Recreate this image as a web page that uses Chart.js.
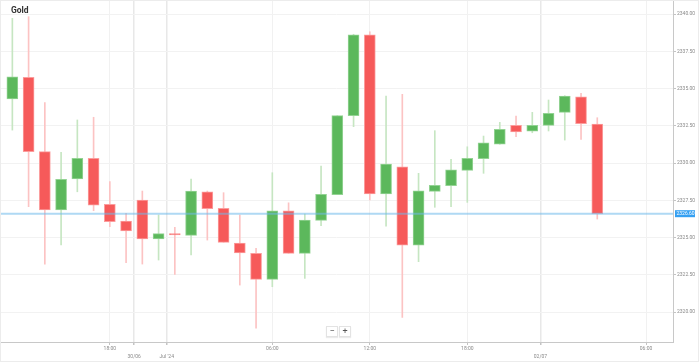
<!DOCTYPE html>
<html>
<head>
<meta charset="utf-8">
<script src="https://cdn.jsdelivr.net/npm/chart.js@4.4.1/dist/chart.umd.min.js"></script>
<style>
    html, body { margin: 0; padding: 0; background: #fff; }
    #wrap { position: relative; width: 699px; height: 362px; font-family: Roboto, "Open Sans", sans-serif; }
    #frame { position: absolute; left: 0; top: 0; width: 697px; height: 360px; border: 1px solid #ececec; pointer-events: none; }
    #title { position: absolute; left: 11px; top: 5px; font-size: 8.5px; font-weight: bold; color: #333; }
    #zoom { position: absolute; left: 326px; top: 326px; display: flex; }
    #zoom span { width: 10px; height: 9px; line-height: 9px; text-align: center; font-size: 9px; color: #555;
        background: #fff; border: 1px solid #e3e3e3; box-shadow: 0 1px 1px rgba(0,0,0,0.08); margin-right: 1px; }
</style>
</head>
<body>
<div id="wrap">
    <canvas id="goldChart" width="699" height="362"></canvas>
    <div id="title">Gold</div>
    <div id="zoom"><span>&minus;</span><span>+</span></div>
    <div id="frame"></div>
</div>
<script>
// hourly candles, 28/06 12:00 -> 02/07 03:00
const times = ["12:00", "13:00", "14:00", "15:00", "16:00", "17:00", "18:00", "19:00",
    "22:00", "23:00",
    "00:00", "01:00", "02:00", "03:00", "04:00", "05:00", "06:00", "07:00", "08:00", "09:00", "10:00",
    "11:00", "12:00", "13:00", "14:00", "15:00", "16:00", "17:00", "18:00", "19:00", "20:00", "21:00",
    "23:00", "00:00", "01:00", "02:00", "03:00"];

const openP = [2334.30, 2335.75, 2330.76, 2326.85, 2328.93, 2330.31, 2327.23, 2326.11, 2327.52, 2324.90,
    2325.27, 2325.15, 2328.07, 2326.96, 2324.63, 2323.94, 2322.19, 2326.80, 2323.94, 2326.15,
    2327.88, 2333.18, 2338.61, 2327.92, 2329.75, 2324.48, 2328.10, 2328.48, 2329.51, 2330.29,
    2331.26, 2332.53, 2332.13, 2332.53, 2333.40, 2334.45, 2332.62];
const highP = [2339.71, 2339.82, 2334.05, 2330.72, 2332.89, 2333.07, 2328.75, 2326.62, 2328.12, 2326.51,
    2325.68, 2328.93, 2328.12, 2328.01, 2326.51, 2324.27, 2329.35, 2327.33, 2326.58, 2329.80,
    2333.18, 2338.64, 2338.81, 2334.50, 2334.61, 2329.31, 2332.17, 2330.25, 2331.09, 2331.81,
    2332.73, 2333.15, 2333.40, 2334.23, 2334.52, 2334.68, 2333.04];
const lowP = [2332.21, 2327.07, 2323.22, 2324.50, 2328.07, 2326.80, 2325.73, 2323.31, 2323.22, 2323.49,
    2322.53, 2323.83, 2324.83, 2324.68, 2321.81, 2318.91, 2321.70, 2323.94, 2322.26, 2325.79,
    2327.88, 2332.44, 2327.52, 2325.77, 2319.64, 2323.38, 2327.03, 2327.07, 2327.36, 2329.31,
    2331.26, 2331.77, 2332.03, 2332.15, 2331.54, 2331.59, 2326.24];
const closeP = [2335.79, 2330.76, 2326.85, 2328.91, 2330.31, 2327.18, 2326.06, 2325.44, 2324.90, 2325.26,
    2325.18, 2328.12, 2326.93, 2324.68, 2323.96, 2322.19, 2326.80, 2323.94, 2326.17, 2327.90,
    2333.18, 2338.61, 2327.92, 2329.93, 2324.48, 2328.14, 2328.50, 2329.55, 2330.31, 2331.36,
    2332.26, 2332.08, 2332.53, 2333.34, 2334.50, 2332.64, 2326.60];

// x ticks sit on candle index (day breaks fall between candles)
const xTickPos = [6, 7.5, 9.5, 16, 22, 28, 32.5, 39];
const xTickText = ["18:00", "30/06", "Jul '24", "06:00", "12:00", "18:00", "02/07", "06:00"];
const xTickIsDay = [false, true, true, false, false, false, true, false];
const yTicks = [2320, 2322.5, 2325, 2327.5, 2330, 2332.5, 2335, 2337.5, 2340];
const lastPrice = 2326.60;

const isUp = openP.map((o, i) => closeP[i] >= o);

const wicks = {
    data: highP.map((h, i) => ({ x: i, y: [lowP[i], h] })),
    backgroundColor: isUp.map(u => u ? "#c6e6c2" : "#fcc3c3"),
    barThickness: 1,
    grouped: false,
    order: 2
};

const bodies = {
    data: openP.map((o, i) => ({ x: i, y: [o, closeP[i]] })),
    backgroundColor: isUp.map(u => u ? "#5cb85c" : "#f65a5a"),
    borderColor: isUp.map(u => u ? "#93d393" : "#fb9d9d"),
    borderWidth: 1,
    borderSkipped: false,
    barThickness: 11,
    grouped: false,
    order: 1
};

const priceLine = {
    id: "priceLine",
    afterDatasetsDraw(chart) {
        let ctx = chart.ctx;
        let area = chart.chartArea;
        let y = chart.scales.y.getPixelForValue(lastPrice);

        ctx.save();
        ctx.strokeStyle = "rgba(110, 185, 235, 0.55)";
        ctx.lineWidth = 2;
        ctx.beginPath();
        ctx.moveTo(area.left, y);
        ctx.lineTo(area.right, y);
        ctx.stroke();

        ctx.fillStyle = "#35a0f2";
        ctx.fillRect(area.right + 2, y - 3.5, 20, 7);
        ctx.fillStyle = "#fff";
        ctx.font = "5px Roboto";
        ctx.textBaseline = "middle";
        ctx.fillText(lastPrice.toFixed(2), area.right + 3.5, y + 0.3);
        ctx.restore();
    }
};

const ctx = document.getElementById("goldChart").getContext("2d");

new Chart(ctx, {
    type: "bar",
    data: { datasets: [wicks, bodies] },
    plugins: [priceLine],
    options: {
        responsive: false,
        animation: false,
        layout: { padding: 0 },
        plugins: {
            legend: { display: false },
            tooltip: { enabled: false }
        },
        scales: {
            x: {
                type: "linear",
                min: -0.76,
                max: 40.66,
                offset: false,
                bounds: "data",
                grid: {
                    offset: false,
                    color: c => c.tick && xTickIsDay[c.index] ? "#e8e8e8" : "#f1f1f1",
                    lineWidth: c => c.tick && xTickIsDay[c.index] ? 1.5 : 1,
                    tickLength: 3,
                    tickColor: "#c4c4c4"
                },
                border: { color: "#c8c8c8" },
                afterBuildTicks: s => { s.ticks = xTickPos.map(v => ({ value: v })); },
                afterFit: s => { s.height = 20; s.paddingLeft = 0; s.paddingRight = 0; },
                ticks: {
                    autoSkip: false,
                    maxRotation: 0,
                    padding: 0,
                    color: "#8a8a8a",
                    font: { size: 5, family: "Roboto", lineHeight: 1.6 },
                    callback: (v, i) => xTickIsDay[i] ? ["", xTickText[i]] : xTickText[i]
                }
            },
            y: {
                position: "right",
                min: 2317.99,
                max: 2340.94,
                bounds: "data",
                grid: {
                    color: "#f2f2f2",
                    tickLength: 3,
                    tickColor: "#c4c4c4"
                },
                border: { color: "#c8c8c8" },
                afterBuildTicks: s => { s.ticks = yTicks.map(v => ({ value: v })); },
                afterFit: s => { s.width = 26; s.paddingTop = 0; s.paddingBottom = 0; },
                ticks: {
                    padding: 1,
                    color: "#8a8a8a",
                    font: { size: 5, family: "Roboto" },
                    callback: v => v.toFixed(2)
                }
            }
        }
    }
});
</script>
</body>
</html>
